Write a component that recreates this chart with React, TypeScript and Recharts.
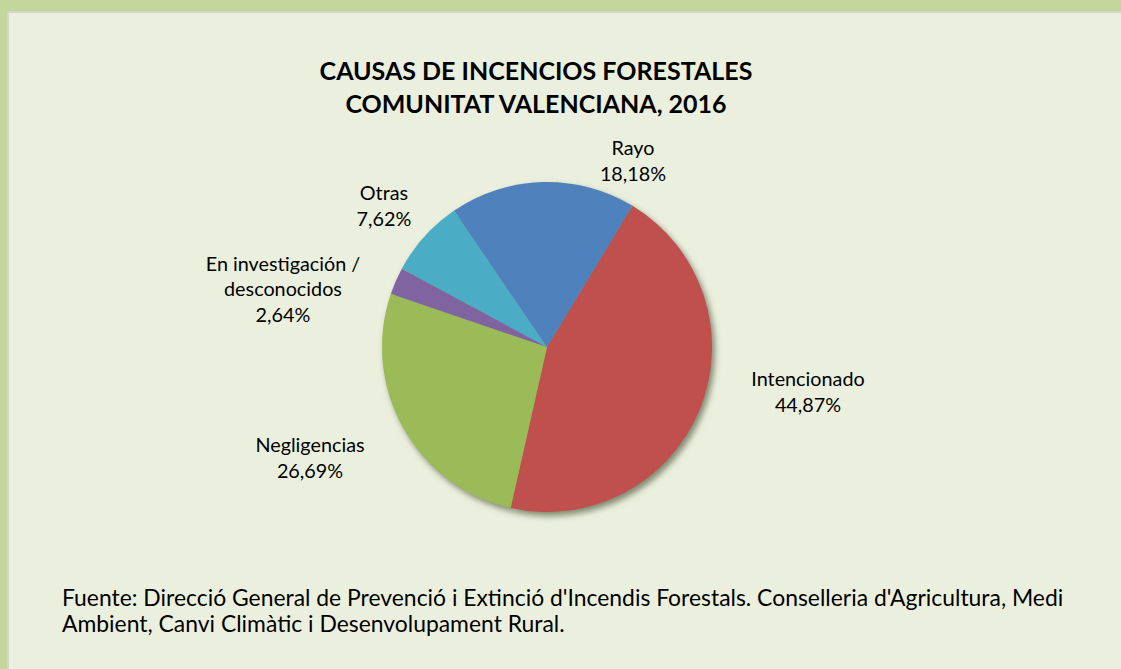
import { Cell, Pie, PieChart } from 'recharts'

const causes: string[][] = [
  ['Intencionado'],
  ['Negligencias'],
  ['En investigación /', 'desconocidos'],
  ['Otras'],
  ['Rayo']
]
const shares = [44.87, 26.69, 2.64, 7.62, 18.18]
const colors = ['#c0504d', '#9bbb59', '#8064a2', '#4bacc6', '#4f81bd']

// label block centres, relative to the pie centre (hand-placed in the original)
const labelOffsets = [
  [261, 44],
  [-237, 110],
  [-264, -59],
  [-163, -142],
  [86, -187]
]

const FONT = 'Lato, "Open Sans", sans-serif'
const LINE = 25.5

const data = causes.map((lines, i) => ({ name: lines.join(' '), lines, value: shares[i] }))

function fmt(v: number): string {
  return v.toFixed(2).replace('.', ',') + '%'
}

function renderLabel(props: any) {
  const { cx, cy, index, payload } = props
  const entry = payload?.payload ?? payload ?? data[index]
  const lines: string[] = [...(entry.lines ?? data[index].lines), fmt(entry.value ?? data[index].value)]
  const [dx, dy] = labelOffsets[index]
  const x = cx + dx
  const top = cy + dy - ((lines.length - 1) * LINE) / 2
  return (
    <text
      key={`lbl-${index}`}
      x={x}
      y={top}
      textAnchor="middle"
      dominantBaseline="central"
      fill="#000"
      fontFamily={FONT}
      fontSize={19.8}
    >
      {lines.map((l, i) => (
        <tspan key={i} x={x} dy={i === 0 ? 0 : LINE}>
          {l}
        </tspan>
      ))}
    </text>
  )
}

export default function App() {
  return (
    <div
      style={{
        position: 'absolute',
        left: 0,
        top: 0,
        width: 1121,
        height: 669,
        background: '#c3d69b',
        overflow: 'hidden'
      }}
    >
      <svg width={0} height={0} style={{ position: 'absolute' }}>
        <defs>
          <filter id="pieShadow" filterUnits="userSpaceOnUse" x={0} y={0} width={1121} height={669}>
            <feGaussianBlur stdDeviation={3} />
            <feOffset dx={3} dy={4} />
          </filter>
        </defs>
      </svg>
      <div
        style={{
          position: 'absolute',
          left: 7,
          top: 11,
          right: 0,
          bottom: 0,
          background: '#ebf0de',
          borderLeft: '2px solid #d3d6c9',
          borderTop: '2px solid #d3d6c9'
        }}
      />
      <div
        style={{
          position: 'absolute',
          left: 0,
          top: 54,
          width: 1072,
          textAlign: 'center',
          fontFamily: FONT,
          fontWeight: 700,
          fontSize: 25,
          lineHeight: '33px',
          color: '#000'
        }}
      >
        CAUSAS DE INCENCIOS FORESTALES
        <br />
        COMUNITAT VALENCIANA, 2016
      </div>
      <div style={{ position: 'absolute', left: 0, top: 0 }}>
        <PieChart width={1121} height={669} margin={{ top: 0, right: 0, bottom: 0, left: 0 }}>
          <Pie
            data={data}
            dataKey="value"
            cx={547}
            cy={347}
            outerRadius={165}
            startAngle={58.8}
            endAngle={-301.2}
            stroke="none"
            label={false}
            labelLine={false}
            isAnimationActive={false}
          >
            {data.map((d, i) => (
              <Cell key={`s-${i}`} fill="#5d664a" fillOpacity={0.75} filter="url(#pieShadow)" />
            ))}
          </Pie>
          <Pie
            data={data}
            dataKey="value"
            cx={547}
            cy={347}
            outerRadius={165}
            startAngle={58.8}
            endAngle={-301.2}
            stroke="none"
            label={renderLabel}
            labelLine={false}
            isAnimationActive={false}
          >
            {data.map((d, i) => (
              <Cell key={`c-${i}`} fill={colors[i]} />
            ))}
          </Pie>
        </PieChart>
      </div>
      <div
        style={{
          position: 'absolute',
          left: 62,
          top: 584,
          fontFamily: FONT,
          fontSize: 22.9,
          lineHeight: '26px',
          color: '#000',
          whiteSpace: 'nowrap'
        }}
      >
        Fuente: Direcció General de Prevenció i Extinció d'Incendis Forestals. Conselleria d'Agricultura, Medi
        <br />
        Ambient, Canvi Climàtic i Desenvolupament Rural.
      </div>
    </div>
  )
}
